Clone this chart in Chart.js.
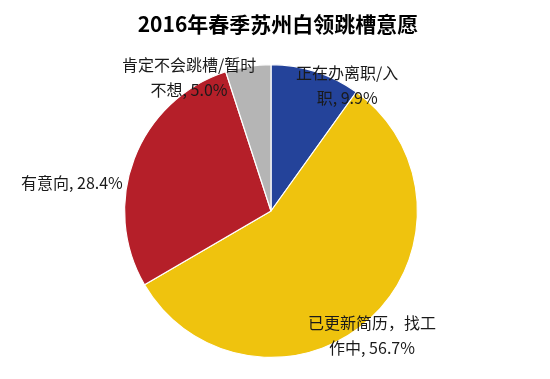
<!DOCTYPE html>
<html>
<head>
<meta charset="utf-8">
<script src="https://cdn.jsdelivr.net/npm/chart.js@4"></script>
<style>
html,body{margin:0;padding:0;background:#fff;}
#wrap{width:550px;height:379px;position:relative;}
</style>
</head>
<body>
<div id="wrap"><canvas id="c" width="550" height="379"></canvas></div>
<script>
const title = '2016年春季苏州白领跳槽意愿';
const categories = ['正在办离职/入职', '已更新简历，找工作中', '有意向', '肯定不会跳槽/暂时不想'];
const values = [9.9, 56.7, 28.4, 5.0];
// label text broken into lines as in the picture
const labelLines = [
  ['正在办离职/入', '职, 9.9%'],
  ['已更新简历，找工', '作中, 56.7%'],
  ['有意向, 28.4%'],
  ['肯定不会跳槽/暂时', '不想, 5.0%']
];
const colors = ['#24439a', '#efc30e', '#b51f29', '#b5b5b5'];
// label anchor offsets relative to pie center, in units of radius
const labelOffsets = [[0.52, -0.86], [0.69, 0.85], [-1.36, -0.19], [-0.56, -0.91]];

const FONT = '"Noto Sans CJK SC", "Noto Sans", sans-serif';

const labelPlugin = {
  id: 'labels',
  afterDraw(chart) {
    const ctx = chart.ctx;
    ctx.save();
    ctx.fillStyle = '#000';
    ctx.font = 'bold 21px ' + FONT;
    ctx.textAlign = 'center';
    ctx.textBaseline = 'middle';
    ctx.fillText(title, 278, 24);
    const meta = chart.getDatasetMeta(0);
    ctx.font = '16px ' + FONT;
    ctx.fillStyle = '#1a1a1a';
    meta.data.forEach((arc, i) => {
      const r = arc.outerRadius;
      const cx = arc.x + labelOffsets[i][0] * r;
      const cy = arc.y + labelOffsets[i][1] * r;
      const lines = labelLines[i];
      const lh = 25;
      const y0 = cy - (lines.length - 1) * lh / 2;
      lines.forEach((t, k) => ctx.fillText(t, cx, y0 + k * lh));
    });
    ctx.restore();
  }
};

new Chart(document.getElementById('c'), {
  type: 'pie',
  data: {
    labels: categories,
    datasets: [{
      data: values,
      backgroundColor: colors,
      borderColor: '#ffffff',
      borderWidth: 1.2
    }]
  },
  options: {
    responsive: false,
    animation: false,
    layout: { padding: { top: 64, bottom: 21, left: 124, right: 132 } },
    plugins: {
      legend: { display: false },
      title: { display: false },
      tooltip: { enabled: false }
    }
  },
  plugins: [labelPlugin]
});
</script>
</body>
</html>
